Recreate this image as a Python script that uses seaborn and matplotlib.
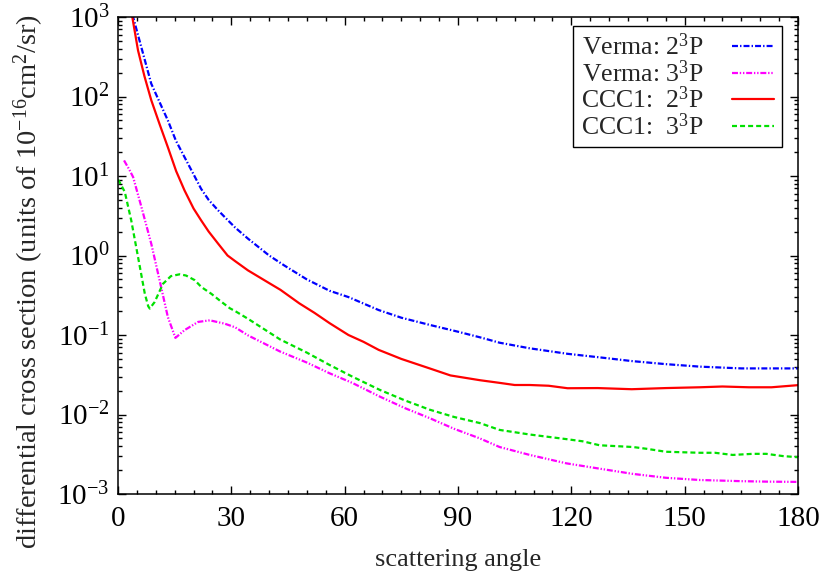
import numpy as np
import pandas as pd
import matplotlib
matplotlib.use("Agg")
import matplotlib.pyplot as plt
import seaborn as sns
from matplotlib.ticker import FixedLocator, FuncFormatter, LogLocator, NullFormatter, MultipleLocator

# ---------------- data ----------------
verma2_angle = [3.5, 4.0, 8.8, 11.0, 13.2, 15.3, 17.6, 20.0, 22.0, 24.0, 26.5, 29.0, 31.0, 34.4,
                40.0, 44.0, 50.0, 56.0, 61.0, 69.0, 75.0, 82.5, 90.0, 96.0, 101.0, 109.0,
                119.0, 128.0, 136.0, 145.0, 154.0, 165.0, 172.0, 180.0]
verma2_dcs = [1500, 1000, 145, 85, 50, 28, 17.3, 10.5, 6.9, 5.0, 3.7, 2.8, 2.25, 1.63,
              1.0, 0.75, 0.50, 0.36, 0.30, 0.206, 0.165, 0.134, 0.11, 0.093, 0.080, 0.068,
              0.058, 0.052, 0.047, 0.043, 0.040, 0.038, 0.038, 0.038]

verma3_angle = [1.6, 3.0, 4.0, 6.2, 8.8, 11.0, 13.2, 15.2, 17.6, 21.2, 24.3, 28.2, 31.0, 34.4,
                42.9, 50.0, 56.0, 62.0, 69.3, 76.0, 82.5, 89.0, 95.8, 101.0, 109.0, 118.7,
                127.0, 136.3, 145.0, 154.0, 165.0, 172.0, 180.0]
verma3_dcs = [15.7, 12.0, 9.7, 4.07, 1.41, 0.49, 0.168, 0.092, 0.115, 0.146, 0.153, 0.139, 0.125, 0.099,
              0.062, 0.045, 0.033, 0.025, 0.0168, 0.012, 0.009, 0.0066, 0.005, 0.0039, 0.0031, 0.00243,
              0.0021, 0.00179, 0.0016, 0.0015, 0.00145, 0.00143, 0.00142]

ccc2_angle = [3.5, 5.3, 7.0, 8.8, 11.0, 13.2, 15.4, 17.6, 20.0, 22.0, 24.0, 26.5, 29.0, 31.0, 34.4,
              40.0, 43.0, 48.0, 52.0, 56.0, 61.0, 65.0, 69.0, 75.0, 82.5, 88.0, 95.8, 101.0,
              105.0, 109.0, 114.0, 119.0, 127.0, 136.0, 145.0, 154.0, 160.0, 167.0, 173.0, 180.0]
ccc2_dcs = [1200, 380, 180, 90, 45, 23, 11.5, 6.6, 3.9, 2.77, 2.0, 1.41, 1.0, 0.85, 0.65,
            0.45, 0.37, 0.25, 0.19, 0.141, 0.10, 0.082, 0.065, 0.05, 0.038, 0.031, 0.027, 0.025,
            0.0235, 0.0235, 0.023, 0.0214, 0.0215, 0.0208, 0.0215, 0.022, 0.0225, 0.022, 0.022, 0.0234]

ccc3_angle = [0.0, 0.4, 1.8, 3.5, 5.3, 7.1, 8.0, 8.4, 9.7, 11.9, 14.0, 16.3, 18.0, 20.3, 22.1, 24.7,
              27.0, 29.6, 31.0, 34.4, 42.9, 50.0, 56.0, 62.0, 69.3, 76.0, 82.5, 89.0, 95.8, 101.0,
              109.0, 118.7, 123.0, 127.5, 136.3, 140.0, 145.0, 154.0, 158.0, 162.7, 168.0, 171.6,
              176.0, 180.0]
ccc3_dcs = [9.0, 8.4, 6.3, 2.77, 0.96, 0.33, 0.23, 0.215, 0.26, 0.44, 0.55, 0.58, 0.56, 0.49, 0.40, 0.33,
            0.27, 0.217, 0.2, 0.16, 0.088, 0.06, 0.042, 0.03, 0.0204, 0.015, 0.0115, 0.0093, 0.0078, 0.0064,
            0.0056, 0.0049, 0.0046, 0.0041, 0.0039, 0.0037, 0.0034, 0.0033, 0.0033, 0.0031, 0.0032, 0.0032,
            0.0030, 0.0029]

series_labels = ["Verma: 2$^{\\mathregular{3}}$P", "Verma: 3$^{\\mathregular{3}}$P",
                 "CCC1:  2$^{\\mathregular{3}}$P", "CCC1:  3$^{\\mathregular{3}}$P"]
x_ticks = [0, 30, 60, 90, 120, 150, 180]
y_exponents = [-3, -2, -1, 0, 1, 2, 3]

# ---------------- style ----------------
sns.set_theme(style="ticks")
plt.rcParams.update({
    "font.family": ["Liberation Serif", "DejaVu Serif"],
    "mathtext.fontset": "custom",
    "mathtext.rm": "Liberation Serif",
    "mathtext.it": "Liberation Serif:italic",
    "mathtext.bf": "Liberation Serif:bold",
    "font.size": 19,
    "lines.scale_dashes": False,
    "axes.linewidth": 1.1,
})

fig = plt.figure(figsize=(8.23, 5.78), dpi=100)
ax = fig.add_axes([118 / 823, 84 / 578, 680 / 823, 477 / 578])

specs = [
    (verma2_angle, verma2_dcs, "#0000ff", (4.3, 1.5, 1.0, 1.5)),
    (verma3_angle, verma3_dcs, "#ff00ff", (4.3, 1.3, 1.0, 1.3, 1.0, 1.3)),
    (ccc2_angle, ccc2_dcs, "#ff0000", None),
    (ccc3_angle, ccc3_dcs, "#00e000", (3.6, 2.2)),
]
handles = []
for (xa, ya, col, dash), lab in zip(specs, series_labels):
    df = pd.DataFrame({"angle": xa, "dcs": ya})
    sns.lineplot(data=df, x="angle", y="dcs", ax=ax, color=col, linewidth=1.6,
                 sort=False, estimator=None, legend=False)
    ln = ax.lines[-1]
    if dash is not None:
        ln.set_dashes(dash)
    ln.set_label(lab)
    handles.append(ln)

ax.set_yscale("log")
ax.set_xlim(0, 180)
ax.set_ylim(1e-3, 1e3)

ax.xaxis.set_major_locator(FixedLocator(x_ticks))
ax.xaxis.set_minor_locator(MultipleLocator(5))
ax.yaxis.set_major_locator(FixedLocator([10.0 ** e for e in y_exponents]))
ax.yaxis.set_minor_locator(LogLocator(base=10, subs=np.arange(2, 10), numticks=20))
ax.yaxis.set_minor_formatter(NullFormatter())
ax.yaxis.set_major_formatter(FuncFormatter(lambda v, p: "10$^{\\mathregular{%d}}$" % round(np.log10(v))))

ax.tick_params(which="both", direction="in", top=True, right=True, width=1.0, colors="black")
ax.tick_params(which="major", length=6, labelsize=21)
ax.tick_params(axis="x", which="major", pad=9)
ax.tick_params(axis="y", which="major", pad=6)
ax.tick_params(which="minor", length=3)
for s in ax.spines.values():
    s.set_color("black")
    s.set_visible(True)

ax.set_xlabel("scattering angle", fontsize=19, labelpad=12)
ax.set_ylabel("differential cross section (units of 10$^{\\mathregular{-16}}$cm$^{\\mathregular{2}}$/sr)",
              fontsize=20.5)
ax.yaxis.set_label_coords((46 - 118) / 680, (494 - 281) / 477)

leg = ax.legend(handles=handles, labels=series_labels, loc="upper right",
                bbox_to_anchor=(0.976, 0.981), borderaxespad=0, markerfirst=False,
                fancybox=False, frameon=True, edgecolor="black", framealpha=1,
                fontsize=18.5, handlelength=1.65, handletextpad=1.1, labelspacing=0.0,
                borderpad=0.3)
leg.get_frame().set_linewidth(1.0)

fig.savefig("out.png", dpi=100)
